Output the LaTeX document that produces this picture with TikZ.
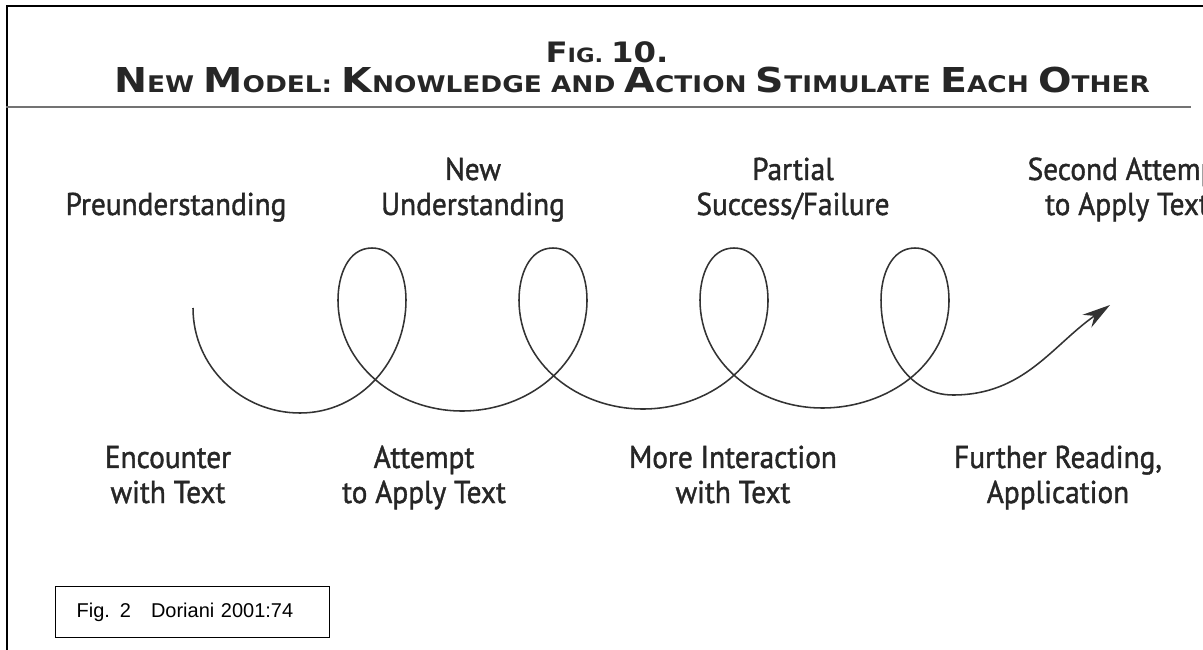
\documentclass[tikz,border=0pt]{standalone}
\usepackage{fontspec}
\usetikzlibrary{arrows.meta}
\newfontfamily\lblfam[FakeStretch=0.93, RawFeature={embolden=1.3}]{PT Sans}
\newfontfamily\ttlfam[FakeStretch=1.15]{DejaVu Sans}
\newfontfamily\capfam{Liberation Sans}
\newcommand\Bc[1]{{\fontsize{24.4pt}{26pt}\selectfont#1}} % big caps of the title
\newcommand\Fc[1]{{\fontsize{20pt}{22pt}\selectfont#1}} % big caps of the fig. line
\tikzset{
  lbl/.style={font=\lblfam\fontsize{22.4pt}{24.9pt}\selectfont, align=center, inner sep=0pt, text=black!85},
  ttl/.style={font=\ttlfam\bfseries\fontsize{16.3pt}{18pt}\selectfont, inner sep=0pt, text=black!85},
  figttl/.style={font=\ttlfam\bfseries\fontsize{14pt}{16pt}\selectfont, inner sep=0pt, text=black!85},
  spiral/.style={draw=black!80, line width=1.1pt},
}

\begin{document}
\begin{tikzpicture}[x=0.025cm, y=-0.025cm]
    \useasboundingbox (0,0) rectangle (1203,650);
    \clip (0,0) rectangle (1203,650);

    % frame, cut off at the right and the bottom
    \coordinate (fbl) at (7,650);
    \coordinate (ftl) at (7,6);
    \coordinate (ftr) at (1203,6);
    \draw[line width=1.6pt] (fbl) -- (ftl) -- (ftr);

    % heading
    \node[figttl, anchor=base] (fig) at (607,63) {\Fc{F}IG. \Fc{10.}};
    \node[ttl, anchor=base] (title) at (632,93) {\Bc{N}EW \Bc{M}ODEL: \Bc{K}NOWLEDGE AND \Bc{A}CTION \Bc{S}TIMULATE \Bc{E}ACH \Bc{O}THER};
    \coordinate (rulel) at (6,107);
    \coordinate (ruler) at (1191,107);
    \draw[line width=1.4pt, black!55] (rulel) -- (ruler);

    % the spiral
    \coordinate (start) at (193,308);
    \foreach \n/\cx in {1/372,2/553,3/734,4/915}{
        \coordinate (top\n) at (\cx,248); % top of loop
        \coordinate (lft\n) at (\cx-34,300); % left side of loop
        \coordinate (rgt\n) at (\cx+34,300); % right side of loop
    }
    \foreach \n/\bx/\by in {1/300/413,2/462/411,3/643/409,4/822/408,5/953/395}
        \coordinate (bot\n) at (\bx,\by); % low points
    \coordinate (tip) at (1110,305);

    \draw[spiral, -{Stealth[length=20pt,width=11pt]}] (start) to[out=-90,in=180] (bot1)
        to[out=0,in=-90] (rgt1) to[out=90,in=0] (top1) to[out=180,in=90] (lft1) to[out=-90,in=180] (bot2)
        to[out=0,in=-90] (rgt2) to[out=90,in=0] (top2) to[out=180,in=90] (lft2) to[out=-90,in=180] (bot3)
        to[out=0,in=-90] (rgt3) to[out=90,in=0] (top3) to[out=180,in=90] (lft3) to[out=-90,in=180] (bot4)
        to[out=0,in=-90] (rgt4) to[out=90,in=0] (top4) to[out=180,in=90] (lft4) to[out=-90,in=180] (bot5)
        to[out=0,in=215] (tip);

    % labels above (base = last line)
    \node[lbl, anchor=base] (preund) at (176,215) {Preunderstanding};
    \node[lbl, anchor=base] (newund) at (473,215) {New\\Understanding};
    \node[lbl, anchor=base] (partial) at (793,215) {Partial\\Success/Failure};
    \node[lbl, anchor=base] (second) at (1127,215) {Second Attempt\\to Apply Text};

    % labels below
    \node[lbl, anchor=base] (encount) at (168,503) {Encounter\\with Text};
    \node[lbl, anchor=base] (attempt) at (424,503) {Attempt\\to Apply Text};
    \node[lbl, anchor=base] (moreint) at (733,503) {More Interaction\\with Text};
    \node[lbl, anchor=base] (further) at (1058,503) {Further Reading,\\Application};

    % source box
    \node[draw, line width=1pt, anchor=north west, minimum height=1.275cm, text width=5.8cm,
        inner xsep=0.525cm, font=\capfam\fontsize{14.2pt}{15pt}\selectfont] (source) at (55,586)
        {Fig. 2\hspace{0.5cm}Doriani 2001:74};
\end{tikzpicture}
\end{document}
